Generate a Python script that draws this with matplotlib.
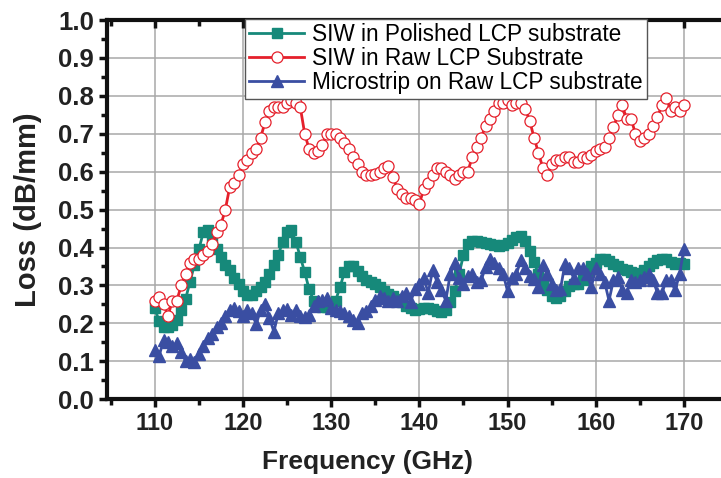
import matplotlib
matplotlib.use("Agg")
import matplotlib.pyplot as plt
import numpy as np
from matplotlib.ticker import MultipleLocator

plt.rcParams['font.family'] = ['Liberation Sans', 'DejaVu Sans']

# Frequency grid (GHz), 0.5 GHz steps from 110 to 170
freq = [110.0 + 0.5 * i for i in range(121)]

siw_polished = [
    0.240, 0.205, 0.190, 0.190, 0.195, 0.210, 0.235, 0.265, 0.310, 0.355,
    0.395, 0.440, 0.445, 0.425, 0.395, 0.375, 0.355, 0.340, 0.320, 0.305,
    0.285, 0.275, 0.275, 0.285, 0.295, 0.310, 0.330, 0.355, 0.380, 0.415,
    0.440, 0.445, 0.415, 0.375, 0.335, 0.290, 0.260, 0.245, 0.243, 0.243,
    0.245, 0.260, 0.295, 0.335, 0.352, 0.350, 0.338, 0.325, 0.315, 0.310,
    0.303, 0.295, 0.285, 0.278, 0.272, 0.265, 0.256, 0.247, 0.240, 0.235,
    0.237, 0.240, 0.240, 0.237, 0.233, 0.230, 0.235, 0.255, 0.285, 0.330,
    0.380, 0.410, 0.417, 0.418, 0.415, 0.412, 0.410, 0.406, 0.405, 0.406,
    0.412, 0.420, 0.428, 0.430, 0.418, 0.392, 0.362, 0.330, 0.305, 0.287,
    0.272, 0.267, 0.272, 0.285, 0.298, 0.303, 0.305, 0.315, 0.330, 0.350,
    0.360, 0.370, 0.370, 0.365, 0.357, 0.350, 0.343, 0.340, 0.336, 0.333,
    0.330, 0.340, 0.350, 0.360, 0.367, 0.370, 0.370, 0.362, 0.357, 0.360,
    0.357,
]

siw_raw = [
    0.260, 0.270, 0.250, 0.220, 0.260, 0.260, 0.300, 0.330, 0.360, 0.370,
    0.370, 0.380, 0.390, 0.410, 0.440, 0.460, 0.500, 0.560, 0.570, 0.590,
    0.620, 0.630, 0.650, 0.660, 0.690, 0.730, 0.760, 0.770, 0.770, 0.770,
    0.780, 0.790, 0.780, 0.770, 0.700, 0.660, 0.650, 0.655, 0.670, 0.700,
    0.700, 0.700, 0.690, 0.675, 0.660, 0.640, 0.620, 0.600, 0.590, 0.590,
    0.595, 0.600, 0.610, 0.615, 0.585, 0.555, 0.540, 0.530, 0.530, 0.525,
    0.515, 0.555, 0.570, 0.590, 0.610, 0.610, 0.600, 0.590, 0.580, 0.590,
    0.600, 0.600, 0.640, 0.665, 0.690, 0.720, 0.740, 0.760, 0.780, 0.780,
    0.790, 0.775, 0.780, 0.780, 0.765, 0.735, 0.690, 0.650, 0.610, 0.590,
    0.620, 0.630, 0.630, 0.640, 0.640, 0.625, 0.625, 0.640, 0.635, 0.645,
    0.655, 0.660, 0.665, 0.690, 0.717, 0.750, 0.775, 0.740, 0.740, 0.700,
    0.680, 0.690, 0.700, 0.720, 0.745, 0.775, 0.795, 0.760, 0.770, 0.760,
    0.775,
]

microstrip_raw = [
    0.130, 0.115, 0.155, 0.150, 0.140, 0.148, 0.125, 0.100, 0.105, 0.097,
    0.120, 0.140, 0.160, 0.173, 0.190, 0.200, 0.220, 0.235, 0.240, 0.232,
    0.220, 0.234, 0.226, 0.198, 0.235, 0.252, 0.215, 0.178, 0.226, 0.234,
    0.238, 0.222, 0.234, 0.220, 0.217, 0.222, 0.245, 0.260, 0.262, 0.266,
    0.240, 0.234, 0.232, 0.228, 0.220, 0.210, 0.200, 0.226, 0.232, 0.245,
    0.262, 0.272, 0.266, 0.260, 0.266, 0.260, 0.272, 0.280, 0.256, 0.290,
    0.305, 0.320, 0.280, 0.340, 0.310, 0.287, 0.260, 0.330, 0.360, 0.320,
    0.305, 0.326, 0.330, 0.310, 0.313, 0.348, 0.370, 0.360, 0.345, 0.330,
    0.285, 0.320, 0.330, 0.366, 0.345, 0.326, 0.318, 0.296, 0.355, 0.330,
    0.305, 0.287, 0.290, 0.357, 0.345, 0.320, 0.345, 0.345, 0.330, 0.296,
    0.345, 0.330, 0.310, 0.260, 0.313, 0.322, 0.287, 0.280, 0.313, 0.310,
    0.313, 0.322, 0.330, 0.313, 0.280, 0.280, 0.313, 0.313, 0.287, 0.330,
    0.397,
]

labels = ["SIW in Polished LCP substrate",
          "SIW in Raw LCP Substrate",
          "Microstrip on Raw LCP substrate"]

xticks = [110, 120, 130, 140, 150, 160, 170]
yticks = [0.0, 0.1, 0.2, 0.3, 0.4, 0.5, 0.6, 0.7, 0.8, 0.9, 1.0]

green = '#16897a'
red = '#e5202b'
blue = '#3a4ea2'

fig = plt.figure(figsize=(7.21, 4.78), dpi=100)
ax = fig.add_axes([0.148, 0.165, 0.852, 0.793])

l1, = ax.plot(freq, siw_polished, color=green, lw=2, marker='s', ms=6.8,
              mfc=green, mec=green, zorder=3)
l3, = ax.plot(freq, microstrip_raw, color=blue, lw=2, marker='^', ms=8,
              mfc=blue, mec=blue, zorder=4)
l2, = ax.plot(freq, siw_raw, color=red, lw=2, marker='o', ms=8,
              mfc='white', mec=red, mew=0.9, zorder=5)

ax.set_xlim(104.55, 174.2)
ax.set_ylim(0, 1.0)
ax.set_xticks(xticks)
ax.set_xticklabels([str(t) for t in xticks])
ax.set_yticks(yticks)
ax.set_yticklabels([f"{t:.1f}" for t in yticks])
ax.xaxis.set_minor_locator(MultipleLocator(5))
ax.yaxis.set_minor_locator(MultipleLocator(0.05))

ax.grid(True, which='major', color='#a8a8a8', lw=1.1)
ax.set_axisbelow(True)

for s in ['left', 'bottom', 'top']:
    ax.spines[s].set_linewidth(3)
    ax.spines[s].set_color('#111111')
ax.spines['right'].set_visible(False)

ax.tick_params(axis='both', which='major', direction='out', length=6, width=2.5,
               colors='#111111')
ax.tick_params(axis='both', which='minor', direction='out', length=4, width=2.5,
               colors='#111111')
ax.tick_params(axis='x', which='major', labelsize=17)
ax.tick_params(axis='y', which='major', labelsize=18.5, pad=3)
ax.tick_params(axis='x', which='both', top=True, labeltop=False)
for lab in ax.get_xticklabels() + ax.get_yticklabels():
    lab.set_fontweight('bold')
    lab.set_color('#222222')
# top ticks point inward
for t in ax.xaxis.get_major_ticks() + ax.xaxis.get_minor_ticks():
    t.tick2line.set_marker(matplotlib.lines.TICKDOWN)

ax.set_xlabel("Frequency (GHz)", fontsize=19, fontweight='bold', color='#222222')
ax.xaxis.set_label_coords(0.425, -0.135)
ax.set_ylabel("Loss (dB/mm)", fontsize=21, fontweight='bold', color='#222222')
ax.yaxis.set_label_coords(-0.105, 0.5)

leg = ax.legend([l1, l2, l3], labels, loc='upper left',
                bbox_to_anchor=(0.225, 1.004), borderaxespad=0,
                fontsize=16.3, frameon=True, fancybox=False, framealpha=1,
                edgecolor='#555555', numpoints=1, handlelength=2.4,
                handletextpad=0.35, labelspacing=0.05, borderpad=0.2)
leg.get_frame().set_linewidth(1.0)
leg.set_zorder(10)

fig.savefig("out.png", dpi=100)
